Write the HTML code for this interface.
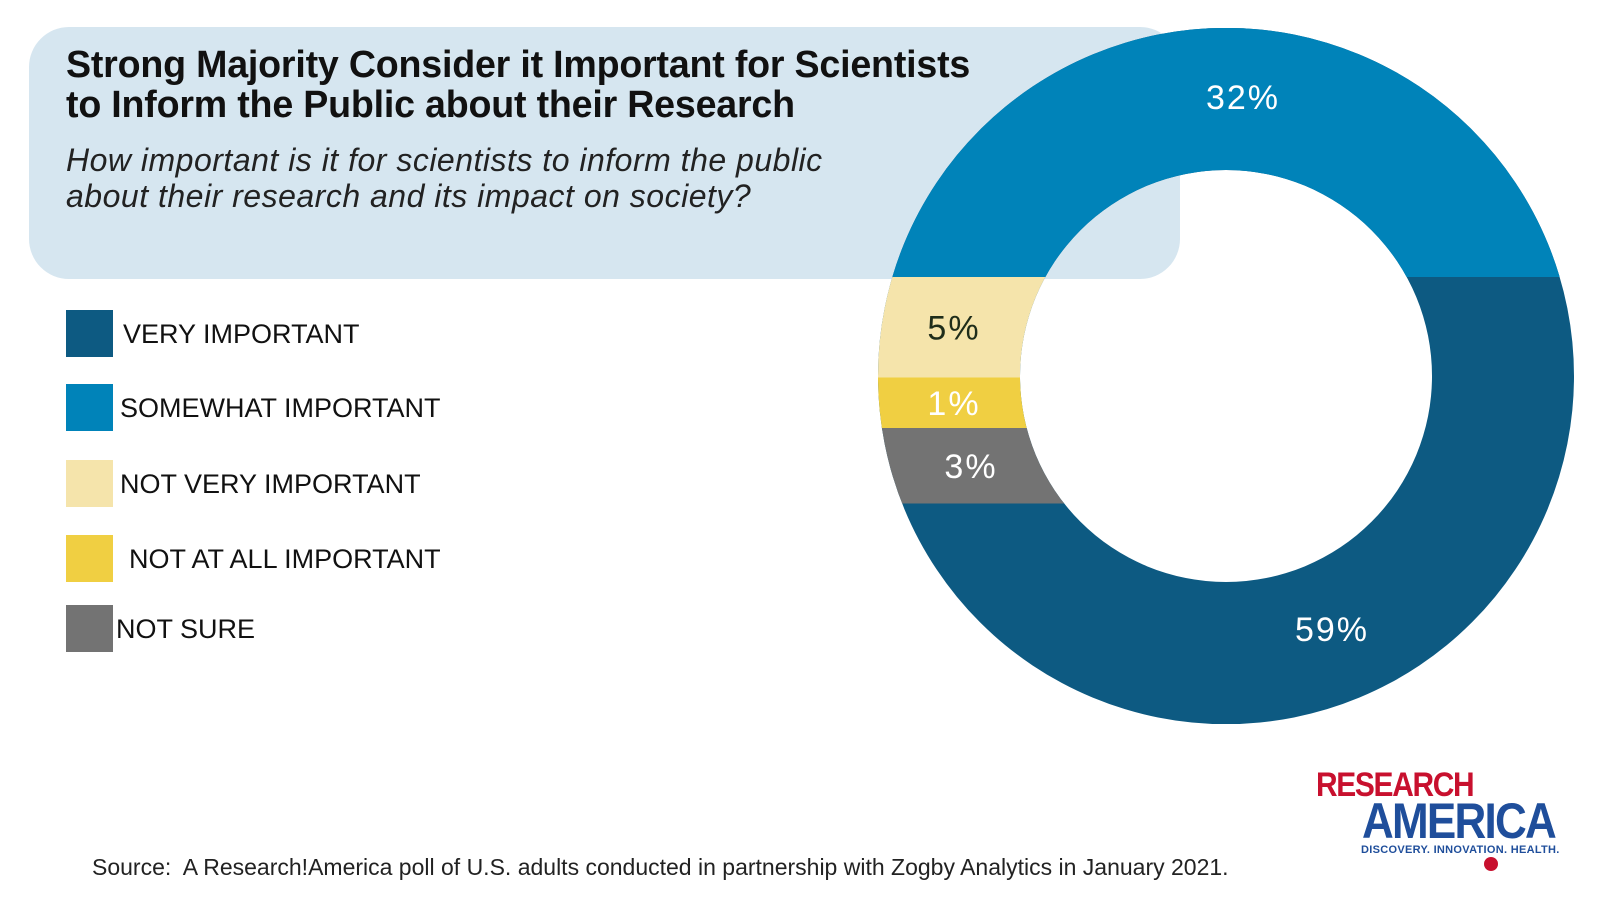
<!DOCTYPE html>
<html><head><meta charset="utf-8"><style>
body{margin:0;width:1600px;height:900px;background:#fff;overflow:hidden;font-family:"Liberation Sans",sans-serif;position:relative}
.hdr{position:absolute;left:29px;top:27px;width:1151px;height:252px;background:#d6e6f0;border-radius:40px}
.title{position:absolute;left:66px;top:44px;font-size:37.6px;font-weight:bold;color:#111;line-height:40px;letter-spacing:-0.2px}
.sub{position:absolute;left:66px;top:142px;font-size:32px;font-style:italic;color:#222;line-height:36px;letter-spacing:0.5px}
.sw{position:absolute;left:66px;width:47px;height:47px}
.lt{position:absolute;font-size:27px;color:#111}
svg{position:absolute;left:0;top:0}
.src{position:absolute;left:92px;top:854px;font-size:23px;color:#222}
</style></head><body>
<div class="hdr"></div>
<div class="title">Strong Majority Consider it Important for Scientists<br>to Inform the Public about their Research</div>
<div class="sub">How important is it for scientists to inform the public<br>about their research and its impact on society?</div>
<div id="legend"></div>
<svg id="chart" width="1600" height="900"></svg>
<div class="src">Source:&nbsp; A Research!America poll of U.S. adults conducted in partnership with Zogby Analytics in January 2021.</div>
<div style="position:absolute;left:1316px;top:766px;width:260px;height:110px">
<div style="color:#c8102e;font-weight:bold;font-size:34px;letter-spacing:-1.5px;transform:scaleX(0.88);transform-origin:left">RESEARCH</div>
<div style="position:absolute;left:46px;top:26px;color:#1f4e9b;font-weight:bold;font-size:50px;letter-spacing:-2px;transform:scaleX(0.88);transform-origin:left">AMERICA</div>
<div style="position:absolute;left:45px;top:78px;color:#1f4e9b;font-weight:bold;font-size:11px;letter-spacing:0.3px">DISCOVERY. INNOVATION. HEALTH.</div>
<div style="position:absolute;left:168px;top:91px;width:14px;height:14px;border-radius:50%;background:#c8102e"></div>
</div>
<script>
const categories=["VERY IMPORTANT","SOMEWHAT IMPORTANT","NOT VERY IMPORTANT","NOT AT ALL IMPORTANT","NOT SURE"];
const values=[59,32,5,1,3];
const colors=["#0d5a82","#0083b9","#f5e4ab","#f0cf42","#737373"];
const labelColors=["#fff","#fff","#1f2d1a","#fff","#fff"];
const NS="http://www.w3.org/2000/svg";
const svg=document.getElementById('chart');
const cx=1226,cy=376,R=348,r=206,yTop=277;
function bandH(v){return 38+v*12.5;}
const legY=[310,384,460,535,605];
const legX=[123,120,120,129,116];
const lg=document.getElementById('legend');
categories.forEach((c,i)=>{
 const s=document.createElement('div');s.className='sw';s.style.top=legY[i]+'px';s.style.background=colors[i];
 
 
 lg.appendChild(s);
 const t=document.createElement('div');t.className='lt';t.style.left=legX[i]+'px';t.style.top=(legY[i]+9)+'px';t.textContent=c;
 
 
 lg.appendChild(t);
});
const defs=document.createElementNS(NS,'defs');
const cp=document.createElementNS(NS,'clipPath');cp.id='ring';
const ring=document.createElementNS(NS,'path');
ring.setAttribute('d',`M${cx-R},${cy}a${R},${R} 0 1,0 ${2*R},0a${R},${R} 0 1,0 ${-2*R},0ZM${cx-r},${cy}a${r},${r} 0 1,1 ${2*r},0a${r},${r} 0 1,1 ${-2*r},0Z`);
ring.setAttribute('clip-rule','evenodd');
cp.appendChild(ring);defs.appendChild(cp);svg.appendChild(defs);
const g=document.createElementNS(NS,'g');g.setAttribute('clip-path','url(#ring)');svg.appendChild(g);
function rect(x,y,w,h,col,name){const e=document.createElementNS(NS,'rect');e.setAttribute('x',x);e.setAttribute('y',y);e.setAttribute('width',w);e.setAttribute('height',h);e.setAttribute('fill',col);
 
 
 g.appendChild(e);}
rect(cx-R,cy-R,2*R,2*R,colors[0],'slice-very-important');
rect(cx-R,cy-R,2*R,yTop-(cy-R),colors[1],'slice-somewhat-important');
let y=yTop;const bandCenters=[];
[2,3,4].forEach(i=>{const h=bandH(values[i]);rect(cx-R,y,R,h,colors[i],'slice-'+i);bandCenters[i]=y+h/2;y+=h;});
function lab(x,yy,txt,col,name){const t=document.createElementNS(NS,'text');t.setAttribute('x',x);t.setAttribute('y',yy);t.setAttribute('text-anchor','middle');t.setAttribute('font-size','34');t.setAttribute('fill',col);t.setAttribute('letter-spacing','2');t.textContent=txt;
 
 
 svg.appendChild(t);}
lab(1332,641,values[0]+'%',labelColors[0],'label-very-important');
lab(1243,109,values[1]+'%',labelColors[1],'label-somewhat-important');
[2,3,4].forEach((i,k)=>lab(k==2?971:954,bandCenters[i]+12,values[i]+'%',labelColors[i],'label-'+i));
</script>
</body></html>
